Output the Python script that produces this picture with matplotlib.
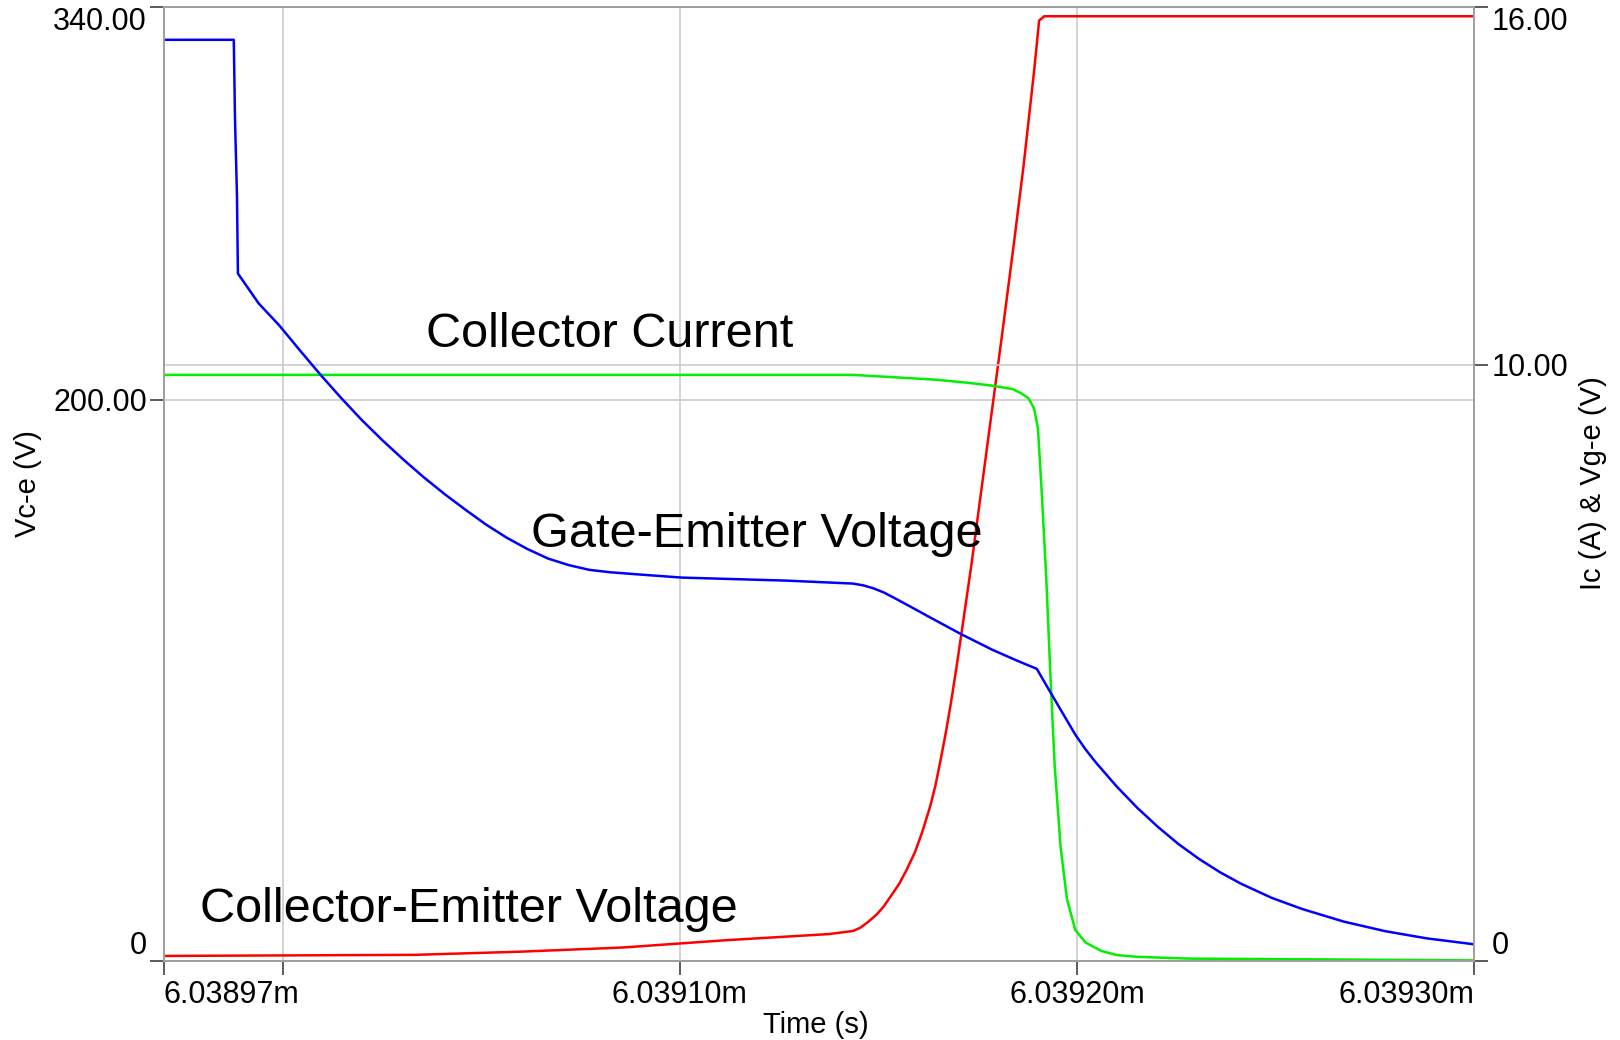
import numpy as np
import matplotlib
matplotlib.use("Agg")
import matplotlib.pyplot as plt

plt.rcParams['font.family'] = ['Liberation Sans', 'DejaVu Sans']

# time origin in ms, sample times given as ns offsets
t0 = 6.03897

# collector-emitter voltage (left axis, V)
vce_ns = [0, 63.5, 89.4, 115.5, 141.6, 167.6, 173.6, 175.4, 177.5, 179.6, 181.4, 183.2, 185.3,
          187.1, 189.2, 191.0, 193.1, 194.4, 195.7, 197.0, 198.3, 199.6, 200.9, 203.5, 206.1,
          208.7, 211.3, 214.0, 216.6, 219.2, 220.5, 221.8, 330.0]
vce = [1.8, 2.2, 3.3, 4.8, 7.4, 9.6, 10.7, 11.8, 14.0, 16.6, 19.5, 23.2, 27.6,
       32.4, 38.7, 45.7, 55.3, 62.7, 71.8, 81.4, 92.1, 103.9, 116.4, 141.8, 169.5,
       197.1, 224.7, 254.2, 283.7, 316.8, 335.2, 336.7, 336.7]

# collector current (right axis, A)
ic_ns = [0, 173.6, 178.8, 186.6, 194.4, 202.2, 208.7, 213.9, 216.0, 217.8, 219.2, 220.2, 221.2,
         222.3, 223.3, 224.4, 225.9, 227.5, 229.6, 232.2, 236.1, 240.0, 245.2, 258.2, 284.2, 330.0]
ic = [9.83, 9.83, 9.81, 9.78, 9.75, 9.70, 9.65, 9.59, 9.52, 9.44, 9.27, 8.93, 7.80,
      6.41, 4.85, 3.29, 1.91, 1.04, 0.52, 0.31, 0.17, 0.10, 0.07, 0.04, 0.03, 0.01]

# gate-emitter voltage (right axis, V)
vge_ns = [0, 17.7, 18.0, 18.5, 18.74, 23.95, 29.15, 34.36, 39.56, 44.77, 49.97, 55.18, 60.39,
          65.59, 70.80, 76.00, 81.21, 86.41, 91.62, 96.82, 102.03, 107.24, 112.44, 120.25,
          130.66, 156.69, 173.61, 176.2, 178.8, 181.4, 184.0, 187.9, 193.1, 200.9, 208.7,
          215.2, 219.9, 224.36, 229.57, 232.17, 234.77, 239.98, 245.19, 250.39, 255.6,
          260.8, 266.01, 271.21, 279.02, 286.83, 297.24, 307.65, 318.06, 330.04]
vge = [15.45, 15.45, 14.14, 12.83, 11.53, 11.03, 10.66, 10.24, 9.83, 9.44, 9.07, 8.73, 8.41,
       8.11, 7.83, 7.57, 7.32, 7.10, 6.91, 6.75, 6.64, 6.56, 6.52, 6.48,
       6.43, 6.38, 6.33, 6.30, 6.25, 6.18, 6.09, 5.95, 5.76, 5.48, 5.22,
       5.03, 4.90, 4.39, 3.80, 3.55, 3.33, 2.93, 2.57, 2.25, 1.96,
       1.71, 1.49, 1.30, 1.06, 0.87, 0.66, 0.50, 0.38, 0.28]

xticks = [6.03897, 6.03900, 6.03910, 6.03920, 6.03930]
xlabels = ['6.03897m', '', '6.03910m', '6.03920m', '6.03930m']
xgrid = [6.03900, 6.03910, 6.03920]


def tms(ns):
    return t0 + np.array(ns) * 1e-6


W, H = 1620, 1040
fig = plt.figure(figsize=(W / 100, H / 100), dpi=100)
ax = fig.add_axes([163.5 / W, 79 / H, 1310.5 / W, 954 / H])
ax2 = ax.twinx()

grid_c = '#cccccc'
for xv in xgrid:
    ax.axvline(xv, color=grid_c, lw=1.2, zorder=0)
ax.axhline(200, color=grid_c, lw=1.2, zorder=0)
ax2.axhline(10, color=grid_c, lw=1.2, zorder=0)

ax.plot(tms(vce_ns), vce, color='#ff0000', lw=1.8)
ax2.plot(tms(ic_ns), ic, color='#00f000', lw=1.8)
ax2.plot(tms(vge_ns), vge, color='#0000ff', lw=1.8)

ax.set_xlim(xticks[0], xticks[-1])
ax.set_ylim(0, 340)
ax2.set_ylim(0, 16)

ax.set_xticks(xticks, xlabels)
ax.set_yticks([0, 200, 340], ['0', '200.00', '340.00'])
ax2.set_yticks([0, 10, 16], ['0', '10.00', '16.00'])

for a in (ax, ax2):
    for s in a.spines.values():
        s.set_color('#a0a0a0')
        s.set_linewidth(1.3)
ax.tick_params(axis='both', length=10, width=1.2, color='#404040', labelsize=22)
ax.tick_params(axis='y', pad=2)
ax.tick_params(axis='x', pad=4)
ax2.tick_params(axis='y', length=10, width=1.2, color='#404040', labelsize=22, pad=3)

xl = ax.get_xticklabels()
xl[0].set_ha('left')
xl[-1].set_ha('right')
for a in (ax, ax2):
    yl = a.get_yticklabels()
    yl[0].set_va('bottom')
    yl[-1].set_va('top')

ax.text(tms(66.1), 218.9, 'Collector Current', fontsize=35, va='baseline', ha='left')
ax.text(tms(92.6), 147.5, 'Gate-Emitter Voltage', fontsize=35, va='baseline', ha='left')
ax.text(tms(9.2), 13.9, 'Collector-Emitter Voltage', fontsize=35, va='baseline', ha='left')

fig.text(28 / W, 1 - 484 / H, 'Vc-e (V)', rotation=90, ha='center', va='center', fontsize=21)
fig.text(1593 / W, 1 - 483 / H, 'Ic (A) & Vg-e (V)', rotation=90, ha='center', va='center', fontsize=21)
fig.text(816 / W, 1 - 1033 / H, 'Time (s)', ha='center', va='baseline', fontsize=21)

fig.savefig('out.png', dpi=100, facecolor='white')
